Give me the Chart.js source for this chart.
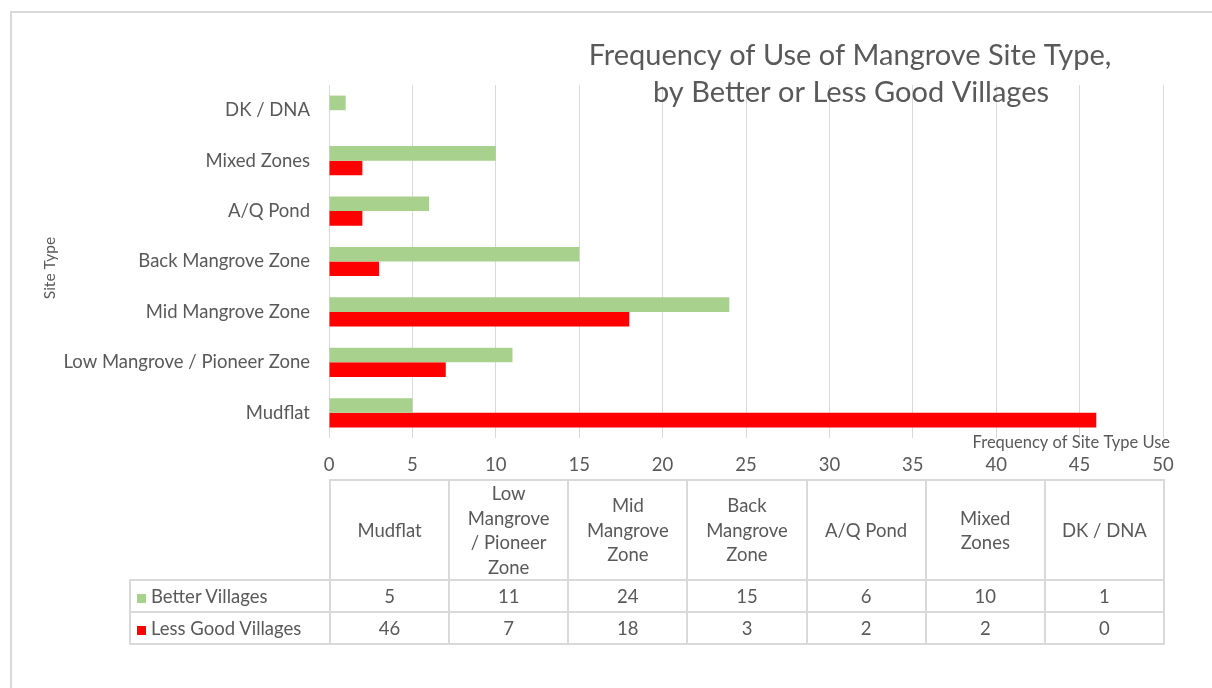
<!DOCTYPE html>
<html>
<head>
<meta charset="utf-8">
<script src="https://cdn.jsdelivr.net/npm/chart.js@4"></script>
<style>
  html, body { margin: 0; padding: 0; background: #fff; overflow: hidden; }
  #wrap { position: relative; width: 1212px; height: 688px; }
  #frame { position: absolute; left: 10px; top: 11px; width: 1300px; height: 800px;
           border: 2px solid #d9d9d9; box-sizing: border-box; }
  canvas { position: absolute; left: 0; top: 0; }
  #dataTable { position: absolute; top: 479px; border-collapse: collapse; table-layout: fixed;
               font-family: Lato, sans-serif; font-size: 18.5px; color: #595959; }
  #dataTable td { border: 2px solid #d9d9d9; text-align: center; padding: 0; }
  #dataTable tr.head td { height: 92px; line-height: 24.5px; }
  #dataTable tr.row td { height: 30px; }
  #dataTable td.corner { border-top: none; border-left: none; }
  #dataTable td.key { text-align: left; padding-left: 6px; white-space: nowrap; }
  .sw { display: inline-block; width: 9px; height: 9px; margin-right: 5px; }
</style>
</head>
<body>
<div id="wrap">
  <div id="frame"></div>
  <canvas id="siteChart" width="1212" height="688"></canvas>
  <table id="dataTable"></table>
</div>
<script>
// dữ liệu
const categories = ["Mudflat", "Low Mangrove / Pioneer Zone", "Mid Mangrove Zone",
  "Back Mangrove Zone", "A/Q Pond", "Mixed Zones", "DK / DNA"];
const tableHeaders = [["Mudflat"], ["Low", "Mangrove", "/ Pioneer", "Zone"], ["Mid", "Mangrove", "Zone"],
  ["Back", "Mangrove", "Zone"], ["A/Q Pond"], ["Mixed", "Zones"], ["DK / DNA"]];
const betterVillages = [5, 11, 24, 15, 6, 10, 1];
const lessGoodVillages = [46, 7, 18, 3, 2, 2, 0];
const seriesNames = ["Better Villages", "Less Good Villages"];
const titleLines = ["Frequency of Use of Mangrove Site Type,", "by Better or Less Good Villages"];
const xAxisTitle = "Frequency of Site Type Use";
const yAxisTitle = "Site Type";
const xMin = 0, xMax = 50, xStep = 5;

const textColor = "#595959";
const seriesColors = ["#a9d18e", "#ff0000"];
const fontFamily = "Lato, sans-serif";

const labelsPlugin = {
  id: "labelsPlugin",
  afterDraw(chart) {
    const ctx = chart.ctx;
    const area = chart.chartArea;
    ctx.save();
    ctx.fillStyle = textColor;
    // tiêu đề
    ctx.font = "29px " + fontFamily;
    ctx.textAlign = "center";
    ctx.textBaseline = "middle";
    ctx.fillText(titleLines[0], 850, 56);
    ctx.fillText(titleLines[1], 851, 93);
    // tiêu đề trục x
    ctx.font = "16.5px " + fontFamily;
    ctx.textAlign = "right";
    ctx.fillText(xAxisTitle, area.right + 7, 443);
    // tiêu đề trục y
    ctx.font = "15.5px " + fontFamily;
    ctx.translate(50, 268);
    ctx.rotate(-Math.PI / 2);
    ctx.textAlign = "center";
    ctx.fillText(yAxisTitle, 0, 0);
    ctx.restore();
  }
};

const chart = new Chart(document.getElementById("siteChart"), {
  type: "bar",
  data: {
    labels: categories,
    datasets: [
      { label: seriesNames[0], data: betterVillages, backgroundColor: seriesColors[0] },
      { label: seriesNames[1], data: lessGoodVillages, backgroundColor: seriesColors[1] }
    ]
  },
  options: {
    indexAxis: "y",
    responsive: false,
    animation: false,
    events: [],
    categoryPercentage: 0.58,
    barPercentage: 1,
    layout: { padding: { left: 0, top: 85, right: 49, bottom: 210 } },
    plugins: {
      legend: { display: false },
      title: { display: false },
      tooltip: { enabled: false }
    },
    scales: {
      x: {
        min: xMin,
        max: xMax,
        grid: { color: "#d9d9d9", lineWidth: 1, drawTicks: false },
        border: { display: false },
        ticks: { stepSize: xStep, color: textColor, padding: 16, font: { family: fontFamily, size: 18.5 } },
        afterFit(scale) { scale.height = 40; }
      },
      y: {
        reverse: true,
        grid: { display: false, drawTicks: false },
        border: { display: false },
        ticks: { color: textColor, padding: 19, font: { family: fontFamily, size: 18.5 } },
        afterFit(scale) { scale.width = 329; }
      }
    }
  },
  plugins: [labelsPlugin]
});

// bảng dữ liệu bên dưới
const table = document.getElementById("dataTable");
const area = chart.chartArea;
const keyWidth = 200;
const colWidth = area.width / categories.length;
table.style.left = (area.left - keyWidth) + "px";
table.style.width = (keyWidth + area.width) + "px";

let html = "<colgroup><col style='width:" + keyWidth + "px'>";
categories.forEach(() => { html += "<col style='width:" + colWidth + "px'>"; });
html += "</colgroup><tr class='head'><td class='corner'></td>";
tableHeaders.forEach(lines => { html += "<td>" + lines.join("<br>") + "</td>"; });
html += "</tr>";
[betterVillages, lessGoodVillages].forEach((values, i) => {
  html += "<tr class='row'><td class='key'><span class='sw' style='background:" + seriesColors[i] +
    "'></span>" + seriesNames[i] + "</td>";
  values.forEach(v => { html += "<td>" + v + "</td>"; });
  html += "</tr>";
});
table.innerHTML = html;
</script>
</body>
</html>
